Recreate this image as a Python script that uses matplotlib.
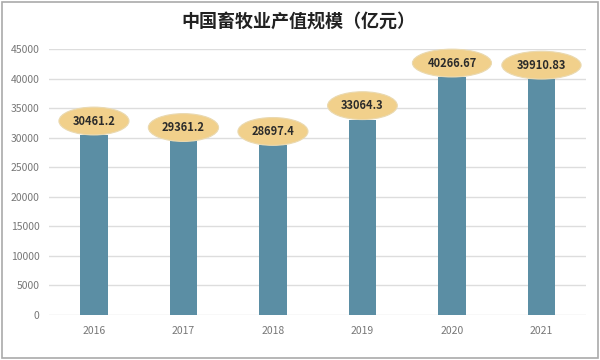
import matplotlib.pyplot as plt
import numpy as np

plt.rcParams['font.family'] = ['Noto Sans CJK SC', 'DejaVu Sans']

years = ['2016', '2017', '2018', '2019', '2020', '2021']
values = [30461.2, 29361.2, 28697.4, 33064.3, 40266.67, 39910.83]
labels = ['30461.2', '29361.2', '28697.4', '33064.3', '40266.67', '39910.83']
yticks = [0, 5000, 10000, 15000, 20000, 25000, 30000, 35000, 40000, 45000]

fig = plt.figure(figsize=(6, 3.6), dpi=100)
ax = fig.add_axes([0.082, 0.125, 0.895, 0.739])

x = np.arange(len(years))
ax.bar(x, values, width=0.31, color='#5b8ea4', zorder=2)

# data labels in yellow ellipses
for xi, v, lab in zip(x, values, labels):
    ax.annotate(lab, (xi, v), xytext=(0, 10), textcoords='offset points',
                ha='center', va='center', fontsize=8, fontweight='bold',
                color='#2b2b2b', zorder=4,
                bbox=dict(boxstyle='ellipse,pad=0.3', fc='#f1d08b', ec='#ead9b0', lw=0.8))

ax.set_ylim(0, 45000)
ax.set_xlim(-0.5, len(years) - 0.5)
ax.set_yticks(yticks)
ax.set_yticklabels([str(t) for t in yticks])
ax.set_xticks(x)
ax.set_xticklabels(years)
ax.grid(axis='y', color='#dddddd', lw=1, zorder=0)
ax.tick_params(axis='both', length=0, labelsize=7.5, colors='#777777')
ax.tick_params(axis='y', pad=7)
ax.tick_params(axis='x', pad=8)
for s in ax.spines.values():
    s.set_visible(False)

fig.text(0.497, 0.94, '中国畜牧业产值规模（亿元）', ha='center', va='center',
         fontsize=13, fontweight='bold', color='#222222')

# outer frame
fig.add_artist(plt.Rectangle((0.003, 0.005), 0.994, 0.99, transform=fig.transFigure,
                             fill=False, ec='#aaaaaa', lw=1.2))

fig.savefig('out.png', dpi=100)
